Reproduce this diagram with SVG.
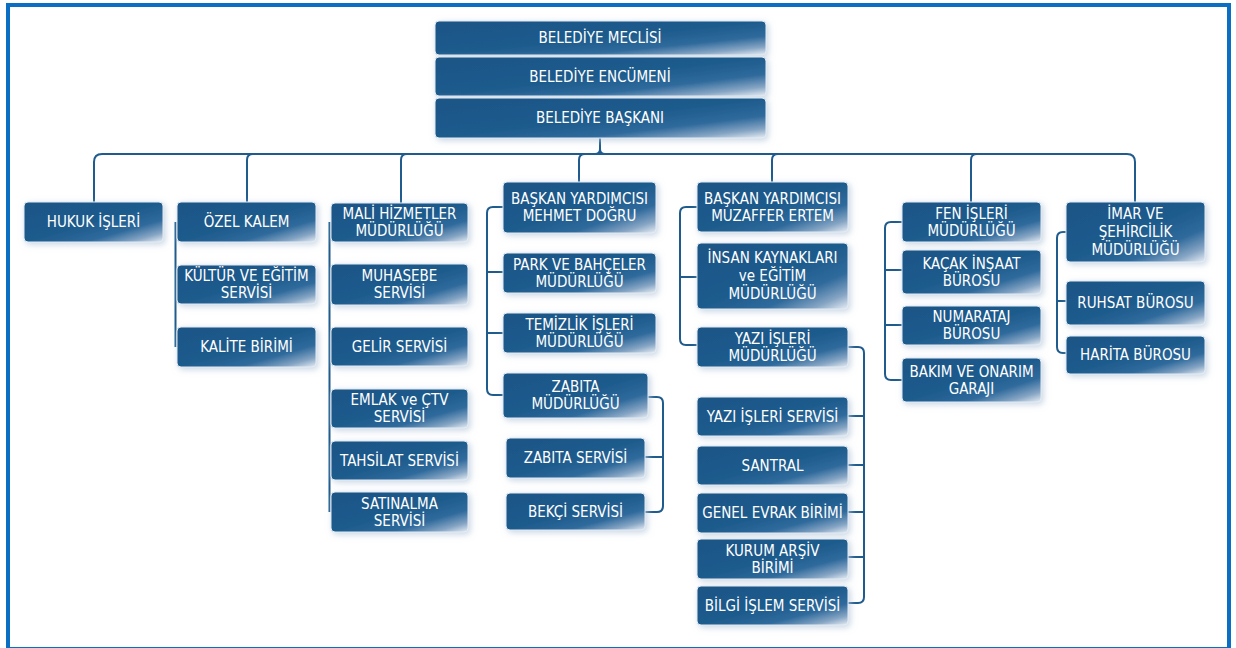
<svg xmlns="http://www.w3.org/2000/svg" width="1236" height="648" viewBox="0 0 1236 648">
<defs>
<linearGradient id="bg" x1="0" y1="0" x2="1" y2="1">
<stop offset="0" stop-color="#1a5586"/>
<stop offset="0.5" stop-color="#1e5b8d"/>
<stop offset="0.72" stop-color="#2f6a9c"/>
<stop offset="0.88" stop-color="#86a5c4"/>
<stop offset="1" stop-color="#e8eef5"/>
</linearGradient>
<filter id="sh" x="-10%" y="-25%" width="125%" height="160%">
<feGaussianBlur in="SourceAlpha" stdDeviation="3"/>
<feOffset dx="1.5" dy="2" result="b"/>
<feFlood flood-color="#b4c7d9" flood-opacity="0.75"/>
<feComposite in2="b" operator="in"/>
<feMerge><feMergeNode/><feMergeNode in="SourceGraphic"/></feMerge>
</filter>
<style>
.b{fill:url(#bg);stroke:#e3ebf4;stroke-width:1;filter:url(#sh)}
.t{fill:#ffffff;font-family:'DejaVu Sans Condensed','DejaVu Sans',sans-serif;font-stretch:condensed;font-size:15px;text-anchor:middle}
.c{fill:none;stroke:#1f5b8c;stroke-width:2}
</style>
</defs>
<rect x="0" y="0" width="1236" height="648" fill="#ffffff"/>
<rect x="8" y="5" width="1221" height="644" fill="none" stroke="#0a6fc2" stroke-width="4"/>

<g id="connectors" class="c">
<path d="M600,138 V149 Q600,154 595,154 M600,149 Q600,154 605,154"/>
<path d="M94,202 V162 Q94,154 102,154 H1127 Q1135,154 1135,162 V202"/>
<path d="M253,154 Q247,154 247,160 V202"/>
<path d="M407,154 Q401,154 401,160 V203"/>
<path d="M585,154 Q579,154 579,160 V182"/>
<path d="M778,154 Q772,154 772,160 V182"/>
<path d="M977,154 Q971,154 971,160 V202"/>
<path d="M175.5,222 V347"/>
<path d="M329.5,222 V512"/>
<path d="M503,207 H493 Q487,207 487,213 V389 Q487,395 493,395 H503 M503,272 H487 M503,333 H487"/>
<path d="M648,397 H657 Q663,397 663,403 V506 Q663,512 657,512 H645 M645,457 H663"/>
<path d="M697,207 H686 Q680,207 680,213 V339 Q680,345 686,345 H697 M697,277 H680"/>
<path d="M848,347 H858 Q864,347 864,353 V597 Q864,603 858,603 H848 M848,416 H864 M848,465 H864 M848,512 H864 M848,557 H864"/>
<path d="M902,222 H891 Q885,222 885,228 V374 Q885,380 891,380 H902 M902,270 H885 M902,325 H885"/>
<path d="M1066,232 H1063 Q1057,232 1057,238 V347 Q1057,353 1063,353 H1066 M1066,301 H1057"/>
</g>

<g id="n-meclis"><rect class="b" x="435" y="21" width="331" height="34" rx="4"/><text class="t" x="600" y="43.3">BELEDİYE MECLİSİ</text></g>
<g id="n-encumen"><rect class="b" x="435" y="57" width="331" height="39" rx="4"/><text class="t" x="600" y="81.8">BELEDİYE ENCÜMENİ</text></g>
<g id="n-baskan"><rect class="b" x="435" y="98" width="331" height="40" rx="4"/><text class="t" x="600" y="123.3">BELEDİYE BAŞKANI</text></g>

<g id="n-hukuk"><rect class="b" x="24" y="202" width="139" height="40" rx="4"/><text class="t" x="93.5" y="227.3">HUKUK İŞLERİ</text></g>
<g id="n-ozel"><rect class="b" x="177" y="202" width="139" height="40" rx="4"/><text class="t" x="246.5" y="227.3">ÖZEL KALEM</text></g>
<g id="n-kultur"><rect class="b" x="177" y="265" width="139" height="39" rx="4"/><text class="t" x="246.5" y="281.3">KÜLTÜR VE EĞİTİM</text><text class="t" x="246.5" y="298.3">SERVİSİ</text></g>
<g id="n-kalite"><rect class="b" x="177" y="327" width="139" height="40" rx="4"/><text class="t" x="246.5" y="352.3">KALİTE BİRİMİ</text></g>

<g id="n-mali"><rect class="b" x="331" y="203" width="137" height="39" rx="4"/><text class="t" x="399.5" y="219.3">MALİ HİZMETLER</text><text class="t" x="399.5" y="236.3">MÜDÜRLÜĞÜ</text></g>
<g id="n-muhasebe"><rect class="b" x="331" y="264" width="137" height="41" rx="4"/><text class="t" x="399.5" y="281.3">MUHASEBE</text><text class="t" x="399.5" y="298.3">SERVİSİ</text></g>
<g id="n-gelir"><rect class="b" x="331" y="327" width="137" height="39" rx="4"/><text class="t" x="399.5" y="351.8">GELİR SERVİSİ</text></g>
<g id="n-emlak"><rect class="b" x="331" y="389" width="137" height="39" rx="4"/><text class="t" x="399.5" y="405.3">EMLAK ve ÇTV</text><text class="t" x="399.5" y="422.3">SERVİSİ</text></g>
<g id="n-tahsilat"><rect class="b" x="331" y="441" width="137" height="39" rx="4"/><text class="t" x="399.5" y="465.8">TAHSİLAT SERVİSİ</text></g>
<g id="n-satinalma"><rect class="b" x="331" y="492" width="137" height="40" rx="4"/><text class="t" x="399.5" y="508.8">SATINALMA</text><text class="t" x="399.5" y="525.8">SERVİSİ</text></g>

<g id="n-mehmet"><rect class="b" x="503" y="182" width="153" height="51" rx="4"/><text class="t" x="579.5" y="204.3">BAŞKAN YARDIMCISI</text><text class="t" x="579.5" y="221.3">MEHMET DOĞRU</text></g>
<g id="n-park"><rect class="b" x="503" y="253" width="153" height="40" rx="4"/><text class="t" x="579.5" y="269.8">PARK VE BAHÇELER</text><text class="t" x="579.5" y="286.8">MÜDÜRLÜĞÜ</text></g>
<g id="n-temizlik"><rect class="b" x="503" y="313" width="153" height="40" rx="4"/><text class="t" x="579.5" y="329.8">TEMİZLİK İŞLERİ</text><text class="t" x="579.5" y="346.8">MÜDÜRLÜĞÜ</text></g>
<g id="n-zabita"><rect class="b" x="503" y="373" width="145" height="45" rx="4"/><text class="t" x="575.5" y="392.3">ZABITA</text><text class="t" x="575.5" y="409.3">MÜDÜRLÜĞÜ</text></g>
<g id="n-zabitaserv"><rect class="b" x="506" y="438" width="139" height="40" rx="4"/><text class="t" x="575.5" y="463.3">ZABITA SERVİSİ</text></g>
<g id="n-bekci"><rect class="b" x="506" y="493" width="139" height="37" rx="4"/><text class="t" x="575.5" y="516.8">BEKÇİ SERVİSİ</text></g>

<g id="n-muzaffer"><rect class="b" x="697" y="182" width="151" height="50" rx="4"/><text class="t" x="772.5" y="203.8">BAŞKAN YARDIMCISI</text><text class="t" x="772.5" y="220.8">MUZAFFER ERTEM</text></g>
<g id="n-insan"><rect class="b" x="697" y="243" width="151" height="66" rx="4"/><text class="t" x="772.5" y="263.3">İNSAN KAYNAKLARI</text><text class="t" x="772.5" y="281.3">ve EĞİTİM</text><text class="t" x="772.5" y="299.3">MÜDÜRLÜĞÜ</text></g>
<g id="n-yazimud"><rect class="b" x="697" y="327" width="151" height="40" rx="4"/><text class="t" x="772.5" y="343.8">YAZI İŞLERİ</text><text class="t" x="772.5" y="360.8">MÜDÜRLÜĞÜ</text></g>
<g id="n-yaziserv"><rect class="b" x="697" y="397" width="151" height="39" rx="4"/><text class="t" x="772.5" y="421.8">YAZI İŞLERİ SERVİSİ</text></g>
<g id="n-santral"><rect class="b" x="697" y="446" width="151" height="39" rx="4"/><text class="t" x="772.5" y="470.8">SANTRAL</text></g>
<g id="n-genelevrak"><rect class="b" x="697" y="493" width="151" height="40" rx="4"/><text class="t" x="772.5" y="518.3">GENEL EVRAK BİRİMİ</text></g>
<g id="n-kurumarsiv"><rect class="b" x="697" y="539" width="151" height="40" rx="4"/><text class="t" x="772.5" y="555.8">KURUM ARŞİV</text><text class="t" x="772.5" y="572.8">BİRİMİ</text></g>
<g id="n-bilgiislem"><rect class="b" x="697" y="586" width="151" height="39" rx="4"/><text class="t" x="772.5" y="610.8">BİLGİ İŞLEM SERVİSİ</text></g>

<g id="n-fen"><rect class="b" x="902" y="202" width="139" height="40" rx="4"/><text class="t" x="971.5" y="218.8">FEN İŞLERİ</text><text class="t" x="971.5" y="235.8">MÜDÜRLÜĞÜ</text></g>
<g id="n-kacak"><rect class="b" x="902" y="250" width="139" height="44" rx="4"/><text class="t" x="971.5" y="268.8">KAÇAK İNŞAAT</text><text class="t" x="971.5" y="285.8">BÜROSU</text></g>
<g id="n-numarataj"><rect class="b" x="902" y="306" width="139" height="39" rx="4"/><text class="t" x="971.5" y="322.3">NUMARATAJ</text><text class="t" x="971.5" y="339.3">BÜROSU</text></g>
<g id="n-bakim"><rect class="b" x="902" y="358" width="139" height="44" rx="4"/><text class="t" x="971.5" y="376.8">BAKIM VE ONARIM</text><text class="t" x="971.5" y="393.8">GARAJI</text></g>

<g id="n-imar"><rect class="b" x="1066" y="202" width="139" height="60" rx="4"/><text class="t" x="1135.5" y="219.3">İMAR VE</text><text class="t" x="1135.5" y="237.3">ŞEHİRCİLİK</text><text class="t" x="1135.5" y="255.3">MÜDÜRLÜĞÜ</text></g>
<g id="n-ruhsat"><rect class="b" x="1066" y="281" width="139" height="44" rx="4"/><text class="t" x="1135.5" y="308.3">RUHSAT BÜROSU</text></g>
<g id="n-harita"><rect class="b" x="1066" y="336" width="139" height="38" rx="4"/><text class="t" x="1135.5" y="360.3">HARİTA BÜROSU</text></g>
</svg>
